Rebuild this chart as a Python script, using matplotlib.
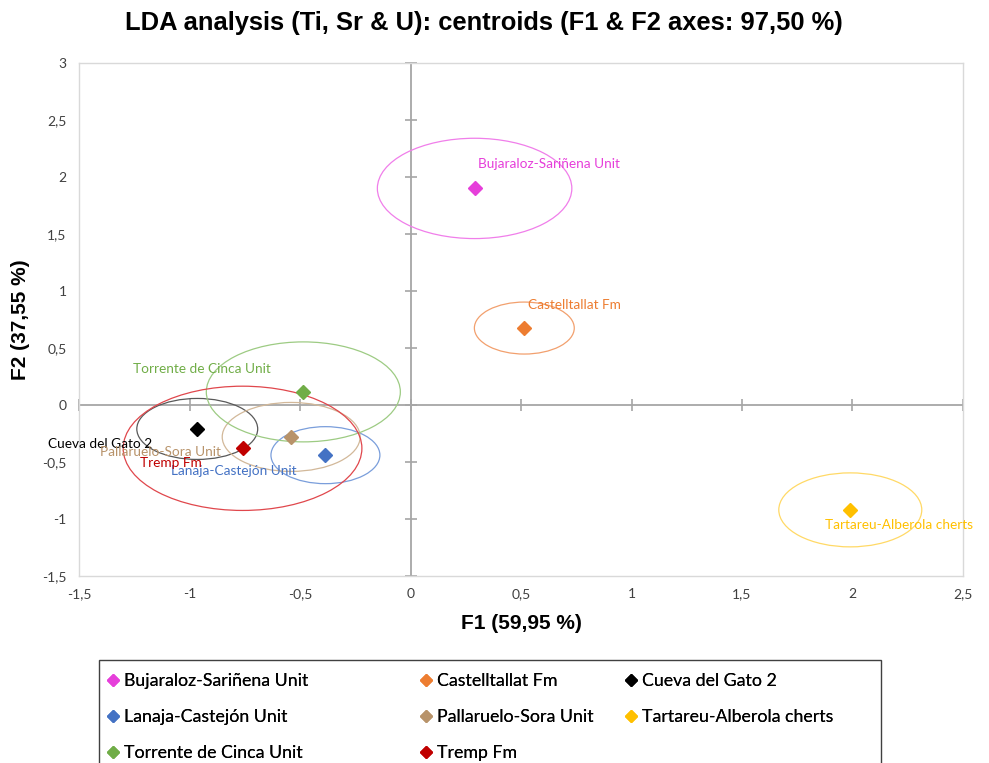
import numpy as np
import matplotlib
matplotlib.use('Agg')
import matplotlib.pyplot as plt
from matplotlib.patches import Ellipse, Rectangle
from matplotlib.lines import Line2D
import matplotlib.ticker as mticker


# Centroids (F1, F2)
groups = ['Bujaraloz-Sariñena Unit', 'Castelltallat Fm', 'Cueva del Gato 2',
          'Lanaja-Castejón Unit', 'Pallaruelo-Sora Unit', 'Tartareu-Alberola cherts',
          'Torrente de Cinca Unit', 'Tremp Fm']
f1 = [0.29, 0.515, -0.965, -0.385, -0.54, 1.99, -0.485, -0.76]
f2 = [1.90, 0.675, -0.21, -0.44, -0.28, -0.92, 0.115, -0.38]

# Confidence ellipses (width, height in data units)
ell_w = [0.88, 0.452, 0.547, 0.493, 0.624, 0.647, 0.878, 1.08]
ell_h = [0.88, 0.456, 0.535, 0.50, 0.605, 0.649, 0.877, 1.09]

# Where the group names sit
lab_x = [0.306, 0.53, -1.64, -1.082, -1.407, 1.876, -1.258, -1.222]
lab_y = [2.11, 0.88, -0.34, -0.58, -0.41, -1.05, 0.316, -0.51]

colors = ['#E63FDA', '#ED7D31', '#000000', '#4472C4', '#B8936A', '#FFC000', '#70AD47', '#C00000']
ell_colors = ['#F07EEA', '#F2A06E', '#595959', '#7A9EDB', '#D2B899', '#FFD966', '#9DCB83', '#E0474C']

xticks = np.arange(-1.5, 2.51, 0.5)
yticks = np.arange(-1.5, 3.01, 0.5)

tick_font = 'Lato'
gray = '#A6A6A6'


def comma_fmt(v, pos):
    s = ('%g' % v).replace('.', ',')
    return '0' if s in ('-0', '0') else s


fig = plt.figure(figsize=(9.89, 7.63), dpi=100)
ax = fig.add_axes([0.0799, 0.2451, 0.8938, 0.6723])

ax.set_xlim(-1.5, 2.5)
ax.set_ylim(-1.5, 3)
ax.set_xticks(xticks)
ax.set_yticks(yticks)
ax.xaxis.set_major_formatter(mticker.FuncFormatter(comma_fmt))
ax.yaxis.set_major_formatter(mticker.FuncFormatter(comma_fmt))
ax.tick_params(length=0, pad=9, labelsize=10, labelcolor='#404040')
for lbl in ax.get_xticklabels() + ax.get_yticklabels():
    lbl.set_fontfamily(tick_font)
for sp in ax.spines.values():
    sp.set_color('#D9D9D9')
    sp.set_linewidth(1)

# Zero axes with their little tick marks
ax.axhline(0, color=gray, lw=1.3, zorder=1)
ax.axvline(0, color=gray, lw=1.3, zorder=1)
ax.plot(np.zeros(len(yticks)), yticks, marker='_', ms=8, mew=1.2, ls='none', color=gray, zorder=1, clip_on=False)
ax.plot(xticks, np.zeros(len(xticks)), marker='|', ms=8, mew=1.2, ls='none', color=gray, zorder=1, clip_on=False)

handles = []
for i, g in enumerate(groups):
    ax.add_patch(Ellipse((f1[i], f2[i]), ell_w[i], ell_h[i], fill=False,
                         edgecolor=ell_colors[i], lw=0.9, zorder=2))
    ax.plot(f1[i], f2[i], marker='D', ms=7, color=colors[i], ls='none', zorder=4)
    ax.text(lab_x[i], lab_y[i], g, color=colors[i], fontsize=9.8, family=tick_font,
            va='center', ha='left', zorder=5, clip_on=False)
    handles.append(Line2D([], [], marker='D', ms=6, color=colors[i], ls='none', label=g))

# Title is a bit left of the plot centre in the original
fig.text(484 / 989, 1 - 23 / 763, 'LDA analysis (Ti, Sr & U): centroids (F1 & F2 axes: 97,50 %)',
         fontsize=18.4, fontweight='bold', family='Liberation Sans', ha='center', va='center')
ax.set_xlabel('F1 (59,95 %)', fontsize=15, fontweight='bold', family='Liberation Sans', labelpad=10)
ax.set_ylabel('F2 (37,55 %)', fontsize=15, fontweight='bold', family='Liberation Sans', labelpad=9)

# Legend box (runs off the bottom of the picture, like the original)
fig.add_artist(Rectangle((99 / 989, -0.05), 782 / 989, (763 - 660) / 763 + 0.05,
                         transform=fig.transFigure, fill=False, edgecolor='#404040', lw=1))

col_x = [106 / 989, 419 / 989, 624 / 989]
for c in range(3):
    leg = fig.legend(handles=handles[c::3], loc='upper left', bbox_to_anchor=(col_x[c], 1 - 673 / 763),
                     frameon=False, borderpad=0, borderaxespad=0, handlelength=0.8, handletextpad=0.2,
                     labelspacing=1.12, prop={'family': tick_font, 'size': 12.8})
    fig.add_artist(leg)

fig.savefig('out.png', dpi=100)
